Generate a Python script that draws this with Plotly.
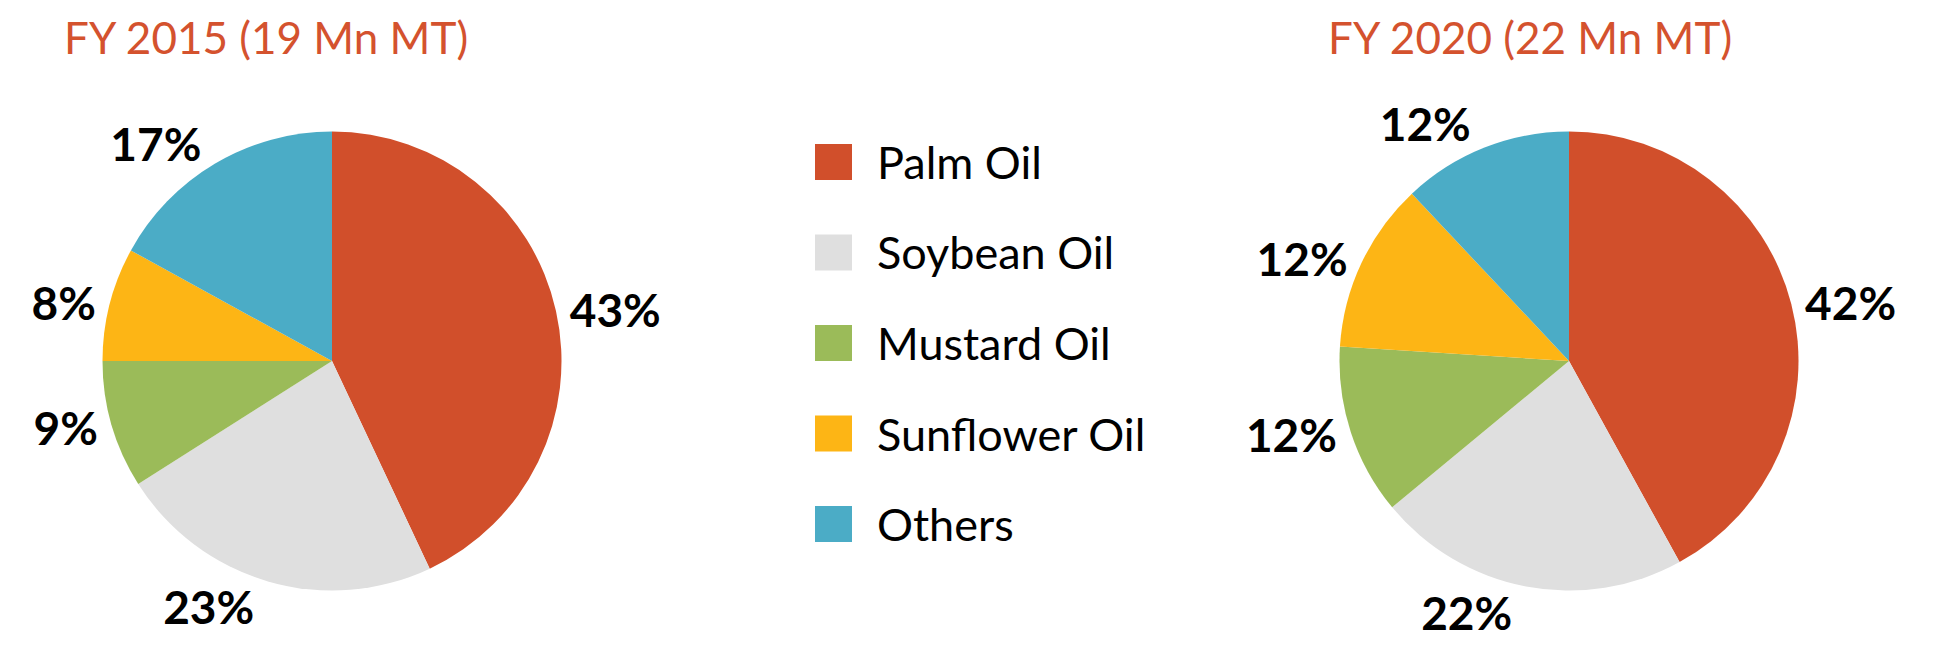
import plotly.graph_objects as go

categories = ["Palm Oil", "Soybean Oil", "Mustard Oil", "Sunflower Oil", "Others"]
colors = ["#D14F2B", "#DFDFDF", "#9BBB59", "#FDB515", "#4BACC6"]
fy2015 = [43, 23, 9, 8, 17]
fy2020 = [42, 22, 12, 12, 12]
titles = ["FY 2015 (19 Mn MT)", "FY 2020 (22 Mn MT)"]

PAGE_W, PAGE_H = 1943, 649
OFF = 8  # default body margin of the page
W, H = PAGE_W - OFF, PAGE_H - OFF
FONT = "Lato"

def fx(x):
    return (x - OFF) / W

def fy(y):
    return 1 - (y - OFF) / H

def px_dom(cx, cy, r):
    return dict(x=[fx(cx - r), fx(cx + r)], y=[fy(cy + r), fy(cy - r)])

fig = go.Figure()
for vals, cx in [(fy2015, 332), (fy2020, 1569)]:
    fig.add_trace(go.Pie(
        labels=categories, values=vals, sort=False, direction="clockwise", rotation=0,
        marker=dict(colors=colors, line=dict(width=0)),
        textinfo="text", texttemplate="%{value}%", textposition="outside",
        textfont=dict(family=FONT, size=46, color="black", weight="bold"),
        domain=px_dom(cx, 361, 229.5), showlegend=False, hoverinfo="label+value",
    ))

annotations = []
for t, x in zip(titles, [266, 1530]):
    annotations.append(dict(text=t, x=fx(x), y=fy(9), xref="paper", yref="paper",
                            xanchor="center", yanchor="top", showarrow=False,
                            font=dict(family=FONT, size=44, color="#D4522E")))

shapes = []
row0, step = 162, 90.5
for i, (c, col) in enumerate(zip(categories, colors)):
    yc = row0 + i * step
    shapes.append(dict(type="rect", xref="paper", yref="paper",
                       x0=fx(815), x1=fx(852), y0=fy(yc + 18), y1=fy(yc - 18),
                       fillcolor=col, line=dict(width=0)))
    annotations.append(dict(text=c, x=fx(875), y=fy(yc), xref="paper", yref="paper",
                            xanchor="left", yanchor="middle", showarrow=False,
                            font=dict(family=FONT, size=45, color="black")))

fig.update_layout(width=W, height=H, margin=dict(l=0, r=0, t=0, b=0),
                  paper_bgcolor="white", plot_bgcolor="white",
                  annotations=annotations, shapes=shapes)
fig.write_html("out.html")
